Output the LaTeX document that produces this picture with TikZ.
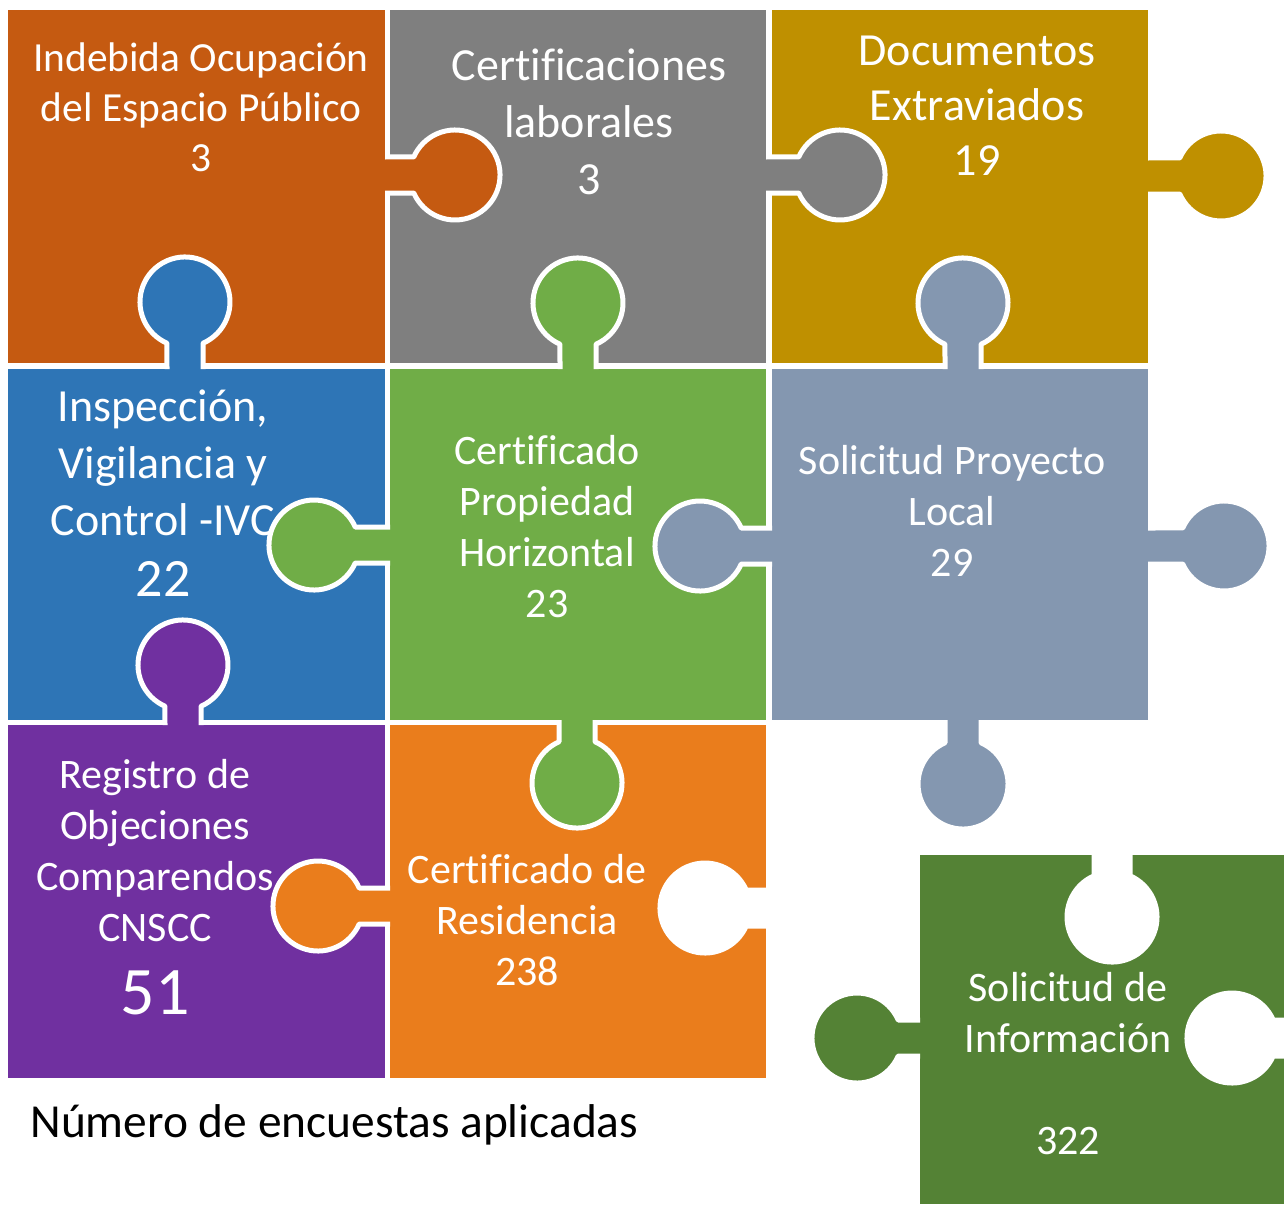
\documentclass[tikz,border=0pt]{standalone}
\usepackage{fontspec}
\setmainfont[Ligatures=NoCommon]{Carlito}
\usetikzlibrary{positioning}

\definecolor{cindebida}{HTML}{C55A11}
\definecolor{cgris}{HTML}{7F7F7F}
\definecolor{cdorado}{HTML}{BF9000}
\definecolor{cazul}{HTML}{2E75B6}
\definecolor{cverde}{HTML}{70AD47}
\definecolor{cpizarra}{HTML}{8497B0}
\definecolor{cmorado}{HTML}{7030A0}
\definecolor{cnaranja}{HTML}{EA7D1C}
\definecolor{cverdeosc}{HTML}{548235}

\tikzset{
    pieceknob/.style={draw=white, line width=2.5pt, line join=round},
    txt/.style={text=white, align=center, inner sep=0pt},
}

% knob: colour, base point, direction, distance to the centre of the round end
\newcommand{\knob}[4]{%
    \filldraw[pieceknob, fill=#1, shift={(#2)}, rotate=#3]
        (0,18) -- ({#4-41.2},18) arc[start angle=156.4, end angle=-156.4, radius=45] -- (0,-18);
}

\begin{document}
\begin{tikzpicture}[x=0.5pt, y=-0.5pt]
    \useasboundingbox (0,0) rectangle (1284,1204);

    \fill[cindebida] (8,10) rectangle (385,363);
    \fill[cgris] (390,10) rectangle (766,363);
    \fill[cdorado] (772,10) rectangle (1148,363);
    \fill[cazul] (8,369) rectangle (385,720);
    \fill[cverde] (390,369) rectangle (766,720);
    \fill[cpizarra] (772,369) rectangle (1148,720);
    \fill[cmorado] (8,725) rectangle (385,1078);
    \fill[cnaranja] (390,725) rectangle (766,1078);
    \fill[cverdeosc] (920,855) rectangle (1284,1204);

    \knob{cindebida}{385,175}{0}{70}
    \knob{cgris}{766,175}{0}{74}
    \knob{cdorado}{1148,176}{0}{73}
    \knob{cazul}{185,369}{90}{67}
    \knob{cverde}{578,369}{90}{66}
    \knob{cpizarra}{963,369}{90}{66}
    \knob{cverde}{390,545}{180}{76}
    \knob{cpizarra}{772,546}{180}{72}
    \knob{cpizarra}{1148,546}{0}{76}
    \knob{cverde}{577,720}{-90}{63}
    \knob{cpizarra}{963,720}{-90}{64}
    \knob{cmorado}{183,725}{90}{60}
    \knob{cnaranja}{390,906}{180}{72}
    \knob{cverdeosc}{920,1038}{180}{63}
    \knob{white}{772,908}{180}{67}
    \knob{white}{1112,850}{-90}{67}
    \knob{white}{1290,1038}{180}{58}

    \node[txt, font=\fontsize{20.7}{25}\selectfont] (indebida) at (201,107)
        {Indebida Ocupación\\del Espacio Público\\3};
    \node[txt, font=\fontsize{23}{28.5}\selectfont] (laborales) at (589,122)
        {Certificaciones\\laborales\\3};
    \node[txt, font=\fontsize{23}{27.5}\selectfont] (extraviados) at (977,106)
        {Documentos\\Extraviados\\19};
    \node[txt, font=\fontsize{23}{28.5}\selectfont] (ivc) at (163,493)
        {Inspección,\\Vigilancia y\\Control -IVC\\[2pt]{\fontsize{27}{30}\selectfont 22}};
    \node[txt, font=\fontsize{21}{25.5}\selectfont] (horizontal) at (547,527)
        {Certificado\\Propiedad\\Horizontal\\23};
    \node[txt, font=\fontsize{21}{25.3}\selectfont] (local) at (952,511)
        {Solicitud Proyecto\\Local\\29};
    \node[txt, font=\fontsize{21}{25.5}\selectfont] (objeciones) at (155,887)
        {Registro de\\Objeciones\\Comparendos\\CNSCC\\[11pt]{\fontsize{34}{36}\selectfont 51}};
    \node[txt, font=\fontsize{21}{25.5}\selectfont] (residencia) at (527,920)
        {Certificado de\\Residencia\\238};
    \node[txt, font=\fontsize{21}{25.5}\selectfont] (informacion) at (1068,1064)
        {Solicitud de\\Información\\[25.5pt]322};

    \node[anchor=west, inner sep=0pt, font=\fontsize{23.7}{28}\selectfont] (titulo) at (30,1125)
        {Número de encuestas aplicadas};
\end{tikzpicture}
\end{document}
